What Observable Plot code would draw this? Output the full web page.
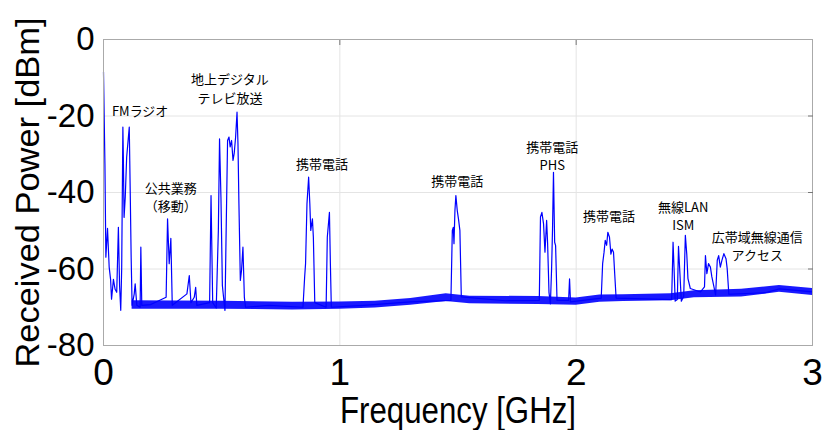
<!DOCTYPE html>
<html><head><meta charset="utf-8">
<script src="https://cdn.jsdelivr.net/npm/d3@7"></script>
<script src="https://cdn.jsdelivr.net/npm/@observablehq/plot@0.6"></script>
<style>
html,body{margin:0;padding:0;background:#fff;}
#chart svg{display:block;}
</style></head><body><div id="chart"></div>
<script>
// Spectrum trace
const freqGHz = [0,0.006,0.010,0.017,0.024,0.030,0.034,0.042,0.049,0.056,0.063,0.068,0.073,0.077,0.082,0.084,0.087,0.092,0.098,0.109,0.113,0.117,0.121,0.130,0.134,0.141,0.155,0.158,0.162,0.200,0.265,0.271,0.278,0.285,0.291,0.353,0.363,0.370,0.384,0.390,0.395,0.449,0.455,0.462,0.477,0.486,0.491,0.497,0.503,0.508,0.514,0.519,0.525,0.531,0.536,0.542,0.548,0.553,0.559,0.565,0.569,0.573,0.579,0.584,0.590,0.596,0.601,0.700,0.844,0.851,0.855,0.861,0.868,0.873,0.877,0.884,0.888,0.894,0.942,0.947,0.956,0.960,0.964,1.100,1.300,1.470,1.476,1.480,1.483,1.487,1.491,1.497,1.502,1.508,1.514,1.700,1.844,1.849,1.855,1.862,1.868,1.875,1.879,1.885,1.891,1.896,1.900,1.904,1.909,1.913,1.919,1.968,1.972,1.976,2.106,2.112,2.118,2.123,2.129,2.134,2.141,2.147,2.152,2.158,2.163,2.169,2.404,2.410,2.414,2.419,2.428,2.433,2.439,2.445,2.455,2.462,2.468,2.473,2.483,2.526,2.543,2.547,2.553,2.560,2.568,2.574,2.583,2.590,2.597,2.603,2.610,2.617,2.625,2.634,2.639,2.646,2.800,2.860,3.000];
const powerDbm = [-8.5,-32.4,-56.9,-49.4,-59.5,-62.7,-67.9,-62.7,-65.3,-66.1,-49.1,-64.4,-70.8,-59.7,-22.9,-30.8,-46.5,-41.3,-30.8,-22.9,-39.5,-56.9,-69.5,-66.5,-63.9,-69.5,-70.0,-54.3,-69.5,-69.3,-67.4,-46.9,-58.6,-52.0,-69.5,-66.5,-61.7,-68.8,-67.4,-64.8,-69.5,-68.8,-40.8,-68.8,-70.2,-49.9,-26.0,-41.3,-64.3,-67.4,-70.8,-49.9,-26.4,-25.5,-28.1,-26.4,-31.6,-29.8,-25.5,-19.0,-27.2,-42.9,-63.0,-60.4,-54.3,-67.4,-70.0,-69.5,-70.0,-62.2,-58.6,-42.9,-36.0,-42.9,-49.9,-46.9,-51.7,-68.8,-70.0,-51.7,-45.2,-58.6,-70.0,-69.5,-68.6,-68.2,-49.9,-49.1,-53.4,-44.8,-40.8,-44.8,-46.9,-49.9,-67.3,-68.3,-68.2,-46.4,-45.2,-48.2,-55.6,-47.3,-53.0,-66.1,-69.1,-60.0,-49.5,-34.7,-53.0,-53.9,-68.2,-68.2,-62.6,-68.6,-67.6,-58.6,-55.6,-52.5,-53.8,-50.4,-51.7,-56.1,-54.8,-55.6,-61.2,-67.6,-68.0,-53.0,-59.5,-68.4,-68.0,-54.1,-61.2,-68.4,-67.1,-51.2,-56.1,-62.5,-65.1,-66.0,-64.7,-56.5,-61.2,-58.6,-59.5,-62.0,-64.7,-66.8,-57.7,-56.5,-59.5,-57.7,-56.0,-57.3,-59.9,-66.6,-66.2,-65.2,-66.0];

// Noise-floor band (lower / upper edge)
const floorFreq = [0.121,0.5,0.8,1.0,1.15,1.3,1.45,1.55,1.84,2.0,2.1,2.2,2.4,2.5,2.7,2.86,3.0];
const floorLow  = [-70.5,-70.5,-70.7,-70.5,-70.2,-69.5,-68.5,-69.1,-69.3,-69.5,-68.7,-68.5,-68.3,-67.5,-67.3,-66.1,-66.9];
const floorHigh = [-68.3,-68.4,-68.7,-68.6,-68.4,-67.7,-66.5,-67.1,-67.2,-67.6,-66.8,-66.7,-66.5,-65.7,-65.3,-64.3,-65.1];

// Annotations
const annoLabels = ["FMラジオ","地上デジタル\nテレビ放送","公共業務\n（移動）","携帯電話","携帯電話","携帯電話\nPHS","携帯電話","無線LAN\nISM","広帯域無線通信\nアクセス"];
const annoFreq   = [0.155,0.535,0.285,0.925,1.497,1.899,2.139,2.453,2.766];
const annoPower  = [-18.4,-12.6,-41.0,-32.4,-36.9,-30.2,-46.0,-46.0,-53.8];

// Ticks
const xTicks = [0,1,2,3];
const yTicks = [0,-20,-40,-60,-80];

const trace = freqGHz.map((f,i)=>({f, p: powerDbm[i]}));
const band = floorFreq.map((f,i)=>({f, lo: floorLow[i], hi: floorHigh[i]}));
const annos = annoLabels.map((t,i)=>({t, f: annoFreq[i], p: annoPower[i]}));

const chart = Plot.plot({
  width: 824, height: 430,
  marginLeft: 103, marginRight: 12, marginTop: 39, marginBottom: 85,
  style: {fontFamily: "'Liberation Sans', Arial, sans-serif", background: "#fff", overflow: "visible"},
  x: {domain: [0, 3]},
  y: {domain: [-80, 0]},
  marks: [
    Plot.gridX(xTicks.slice(1, -1), {stroke: "#e4e4e4", strokeOpacity: 1}),
    Plot.gridY(yTicks.slice(1, -1), {stroke: "#e4e4e4", strokeOpacity: 1}),
    Plot.areaY(band, {x: "f", y1: "lo", y2: "hi", fill: "#0000ff", fillOpacity: 0.9}),
    Plot.line(trace, {x: "f", y: "p", stroke: "#0000ff", strokeWidth: 1.2}),
    Plot.frame({stroke: "#aaaaaa"}),
    Plot.axisX(xTicks.slice(1, -1), {anchor: "top", tickSize: -5, tickFormat: () => "", label: null, stroke: "#777"}),
    Plot.axisY(yTicks.slice(1, -1), {anchor: "right", tickSize: -5, tickFormat: () => "", label: null, stroke: "#777"}),
    Plot.axisX(xTicks, {anchor: "bottom", tickSize: 0, tickPadding: 13, fontSize: 37, tickFormat: d => String(d), label: null}),
    Plot.axisY(yTicks, {anchor: "left", tickSize: 0, tickPadding: 9, fontSize: 33, tickFormat: d => String(d), label: null}),
    Plot.text(annos, {x: "f", y: "p", text: "t", fontSize: 13, fontFamily: "'Noto Sans CJK JP', sans-serif", lineHeight: 1.4, fill: "#000"}),
    Plot.text(["Frequency [GHz]"], {text: d => d, frameAnchor: "bottom", textAnchor: "middle", dy: 77, fontSize: 37, fill: "#000"}),
    Plot.text(["Received Power [dBm]"], {text: d => d, frameAnchor: "left", textAnchor: "middle", dx: -75, rotate: -90, fontSize: 33, fill: "#000"})
  ]
});
document.getElementById("chart").appendChild(chart);
d3.select(chart).selectAll("text")
  .filter(function() { return this.textContent === "Frequency [GHz]"; })
  .attr("textLength", 236).attr("lengthAdjust", "spacingAndGlyphs");
d3.select(chart).selectAll("text")
  .filter(function() { return this.textContent === "Received Power [dBm]"; })
  .attr("textLength", 350).attr("lengthAdjust", "spacingAndGlyphs");
</script>
</body></html>
